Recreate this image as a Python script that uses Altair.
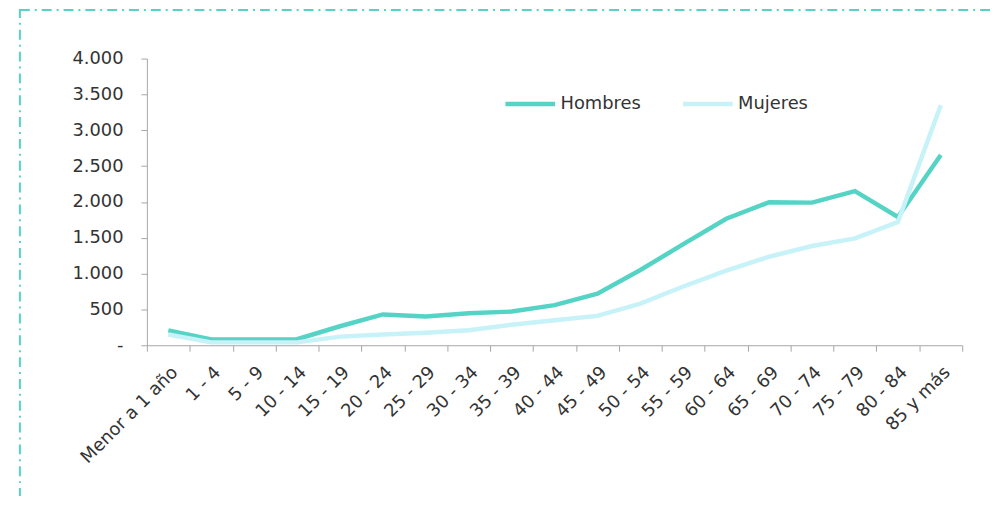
import altair as alt
import pandas as pd

categories = ["Menor a 1 año", "1 - 4", "5 - 9", "10 - 14", "15 - 19", "20 - 24",
              "25 - 29", "30 - 34", "35 - 39", "40 - 44", "45 - 49", "50 - 54",
              "55 - 59", "60 - 64", "65 - 69", "70 - 74", "75 - 79", "80 - 84",
              "85 y más"]
hombres = [205, 80, 80, 85, 265, 430, 400, 445, 470, 560, 720, 1050,
           1410, 1765, 1995, 1990, 2150, 1790, 2655]
mujeres = [150, 40, 40, 40, 120, 150, 175, 210, 285, 350, 410, 580,
           820, 1040, 1235, 1385, 1490, 1720, 3350]
series = ["Hombres", "Mujeres"]
colors = ["#55D4C6", "#C6F2F8"]
y_ticks = [0, 500, 1000, 1500, 2000, 2500, 3000, 3500, 4000]

rows = []
for c, h, m in zip(categories, hombres, mujeres):
    rows.append({"grupo": c, "sexo": "Hombres", "valor": h})
    rows.append({"grupo": c, "sexo": "Mujeres", "valor": m})
df = pd.DataFrame(rows)

FONT = "DejaVu Sans"
FS = 18
TXT = "#333333"
AX = "#A6A6A6"

border = alt.Chart(pd.DataFrame({"a": [0]})).mark_rect(
    fill="transparent", stroke="#55D4C6", strokeWidth=2,
    strokeDash=[10, 5, 2, 5]
).encode(
    x=alt.value(-128), x2=alt.value(880),
    y=alt.value(-49), y2=alt.value(520)
)

lines = alt.Chart(df).mark_line(strokeWidth=4.5).encode(
    x=alt.X("grupo:N", sort=categories, bandPosition=0.5,
            scale=alt.Scale(type="band", paddingInner=0, paddingOuter=0),
            axis=alt.Axis(title=None, labelAngle=-45, tickBand="extent",
                          labelFontSize=FS, labelFont=FONT, labelColor=TXT,
                          tickSize=6, tickColor=AX, domainColor=AX,
                          labelPadding=12, labelLimit=300, labelOverlap=False)),
    y=alt.Y("valor:Q", scale=alt.Scale(domain=[0, 4000], nice=False),
            axis=alt.Axis(title=None, values=y_ticks, grid=False,
                          labelExpr="datum.value == 0 ? '-' : replace(format(datum.value, ','), ',', '.')",
                          labelFontSize=FS, labelFont=FONT, labelColor=TXT,
                          tickSize=6, tickColor=AX, domainColor=AX,
                          labelPadding=18)),
    color=alt.Color("sexo:N", scale=alt.Scale(domain=series, range=colors),
                    legend=alt.Legend(title=None, orient="none", legendX=359,
                                      legendY=18, direction="horizontal",
                                      symbolType="stroke", symbolSize=2500,
                                      symbolStrokeWidth=4.5, labelFontSize=FS,
                                      labelFont=FONT, labelColor=TXT,
                                      columnPadding=33, labelOffset=3)),
    order=alt.Order("sexo:N")
)

chart = alt.layer(border, lines).properties(
    width=822, height=289,
    autosize=alt.AutoSizeParams(type="none"),
    padding={"left": 140, "top": 49, "right": 29, "bottom": 150}
).configure_view(stroke=None)

chart.save("out.html", embed_options={"renderer": "svg", "actions": False})
